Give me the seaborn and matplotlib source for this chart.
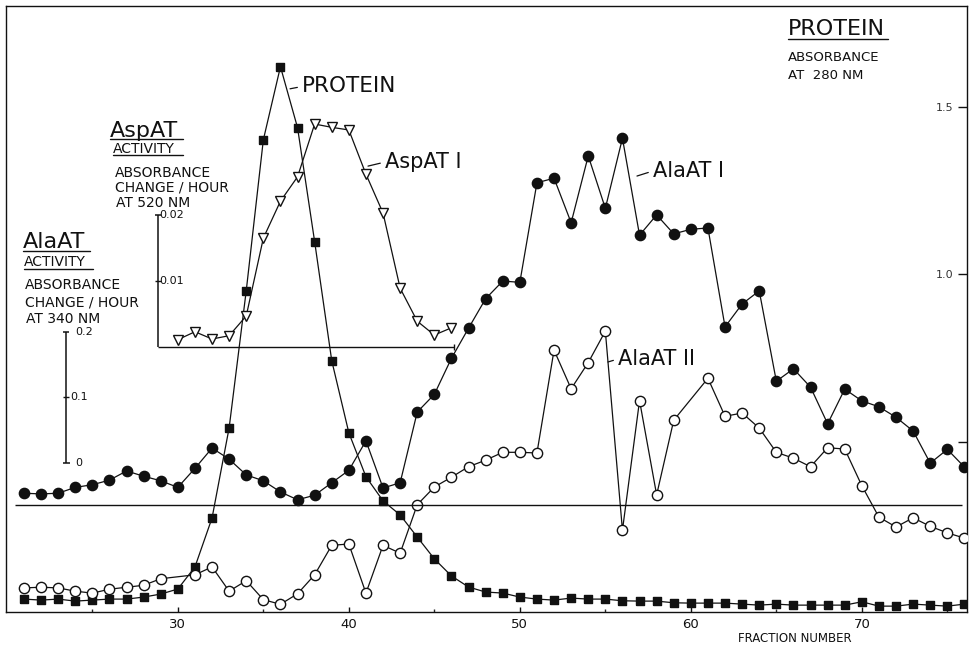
import matplotlib
matplotlib.use("Agg")
import matplotlib.pyplot as plt
from matplotlib.lines import Line2D
import seaborn as sns

# ---------------------------------------------------------------- data
fractions = list(range(21, 77))

# Protein, absorbance at 280 nm
protein_a280 = [
    0.031, 0.028, 0.031, 0.025, 0.028, 0.031, 0.031, 0.037, 0.046, 0.061,
    0.127, 0.273, 0.542, 0.951, 1.401, 1.619, 1.437, 1.097, 0.742, 0.527,
    0.396, 0.324, 0.282, 0.216, 0.151, 0.100, 0.067, 0.052, 0.049, 0.037,
    0.031, 0.028, 0.034, 0.031, 0.031, 0.026, 0.025, 0.025, 0.020, 0.019,
    0.019, 0.019, 0.016, 0.013, 0.016, 0.013, 0.013, 0.013, 0.013, 0.023,
    0.010, 0.010, 0.016, 0.013, 0.010, 0.016,
]

# AlaAT I activity (absorbance change / hour at 340 nm), above its own baseline
alaat1_activity = [
    0.018, 0.017, 0.018, 0.027, 0.031, 0.038, 0.052, 0.044, 0.037, 0.027,
    0.056, 0.087, 0.070, 0.046, 0.037, 0.020, 0.008, 0.015, 0.034, 0.053,
    0.098, 0.026, 0.034, 0.142, 0.169, 0.224, 0.270, 0.315, 0.342, 0.340,
    0.492, 0.499, 0.431, 0.533, 0.453, 0.560, 0.412, 0.443, 0.414, 0.421,
    0.423, 0.272, 0.307, 0.327, 0.189, 0.208, 0.180, 0.124, 0.177, 0.159,
    0.150, 0.134, 0.113, 0.064, 0.085, 0.058,
]

# AlaAT II activity (absorbance change / hour at 340 nm)
alaat2_fractions = list(range(21, 30)) + list(range(31, 60)) + list(range(61, 77))
alaat2_activity = [
    0.033, 0.034, 0.033, 0.028, 0.025, 0.031, 0.034, 0.037, 0.047,
    0.053, 0.065, 0.028, 0.044, 0.015, 0.008, 0.024, 0.053, 0.098, 0.100,
    0.025, 0.098, 0.086, 0.160, 0.187, 0.202, 0.218, 0.228, 0.240, 0.240,
    0.239, 0.396, 0.337, 0.377, 0.425, 0.121, 0.319, 0.175, 0.289,
    0.353, 0.295, 0.300, 0.277, 0.240, 0.231, 0.218, 0.247, 0.245, 0.189,
    0.141, 0.126, 0.140, 0.127, 0.117, 0.109,
]

# AspAT I activity (absorbance change / hour at 520 nm)
aspat_fractions = list(range(30, 47))
aspat_activity = [
    0.0011, 0.0023, 0.0012, 0.0017, 0.0047, 0.0165, 0.0221, 0.0258, 0.0338,
    0.0333, 0.0329, 0.0262, 0.0203, 0.0089, 0.0039, 0.0018, 0.0029,
]

fraction_ticks = [30, 40, 50, 60, 70]
fraction_tick_labels = ["30", "40", "50", "60", "70"]
fraction_minor_ticks = [25, 35, 45, 55, 65, 75]
protein_ticks = [0.5, 1.0, 1.5]
protein_tick_labels = ["", "1.0", "1.5"]
alaat_scale = [0.0, 0.1, 0.2]
alaat_scale_labels = ["0", "0.1", "0.2"]
aspat_scale = [0.0, 0.01, 0.02]
aspat_scale_labels = ["", "0.01", "0.02"]

# ---------------------------------------------------------------- layout
W, H = 972, 647
LEFT, TOP, RIGHT, BOTTOM = 6, 6, 967, 612
XLIM = (19.95, 76.15)
PROTEIN_YLIM = (-0.0075, 1.80)
ALAAT_YLIM = (-0.0038, 0.9214)
ASPAT_YLIM = (-0.0402, 0.0517)
ALAAT1_OFFSET = 0.1595      # AlaAT I is lifted onto its own baseline
ALAAT_BAR_X, ALAAT_BAR_BASE = 23.46, 0.2237
ASPAT_BAR_X, ASPAT_BASE_END = 28.84, 46.15
TALL_SQUARE = [(-0.8, -1), (0.8, -1), (0.8, 1), (-0.8, 1), (-0.8, -1)]

sns.set_theme(style="white")
plt.rcParams["font.family"] = ["DejaVu Sans"]
plt.rcParams["axes.linewidth"] = 1.0
INK = "#111111"

fig = plt.figure(figsize=(W / 100, H / 100), dpi=100)
fig.patch.set_facecolor("white")
ax = fig.add_axes([LEFT / W, 1 - BOTTOM / H, (RIGHT - LEFT) / W, (BOTTOM - TOP) / H])
ax_ala = ax.twinx()
ax_asp = ax.twinx()


def trace(axis, x, y, marker, size, face):
    sns.lineplot(x=x, y=y, ax=axis, color=INK, linewidth=0.9, marker=marker,
                 markersize=size, markerfacecolor=face, markeredgecolor=INK,
                 markeredgewidth=1.0, estimator=None, sort=False)


trace(ax, fractions, protein_a280, TALL_SQUARE, 6.4, INK)
trace(ax_ala, alaat2_fractions, alaat2_activity, "o", 7.4, "white")
trace(ax_ala, fractions, [v + ALAAT1_OFFSET for v in alaat1_activity], "o", 7.4, INK)
trace(ax_asp, aspat_fractions, aspat_activity, "v", 6.8, "white")

# baselines
ax_ala.hlines(ALAAT1_OFFSET, 20.5, 75.85, color=INK, lw=1.0)
ax_asp.hlines(0, ASPAT_BAR_X, ASPAT_BASE_END, color=INK, lw=1.0)
ax_asp.vlines(ASPAT_BASE_END, -0.0004, 0.0004, color=INK, lw=1.0)

# AspAT scale bar
ax_asp.vlines(ASPAT_BAR_X, aspat_scale[0], aspat_scale[-1], color=INK, lw=1.1)
ax_asp.hlines(aspat_scale[-1], ASPAT_BAR_X - 0.2, ASPAT_BAR_X + 0.2, color=INK, lw=1.1)
ax_asp.hlines(aspat_scale[1], ASPAT_BAR_X - 0.15, ASPAT_BAR_X + 0.15, color=INK, lw=1.0)
for v, s in zip(aspat_scale, aspat_scale_labels):
    if s:
        ax_asp.text(ASPAT_BAR_X + 0.1, v, s, fontsize=8, ha="left", va="center", color=INK)

# AlaAT scale bar
bar = [ALAAT_BAR_BASE + v for v in alaat_scale]
ax_ala.vlines(ALAAT_BAR_X, bar[0], bar[-1], color=INK, lw=1.1)
ax_ala.hlines(bar[-1], ALAAT_BAR_X - 0.17, ALAAT_BAR_X + 0.17, color=INK, lw=1.1)
ax_ala.hlines(bar[1], ALAAT_BAR_X - 0.15, ALAAT_BAR_X + 0.15, color=INK, lw=1.0)
ax_ala.hlines(bar[0], ALAAT_BAR_X - 0.15, ALAAT_BAR_X + 0.25, color=INK, lw=1.1)
for v, s, dx in zip(bar, alaat_scale_labels, [0.52, 0.23, 0.52]):
    ax_ala.text(ALAAT_BAR_X + dx, v, s, fontsize=8, ha="left", va="center", color=INK)

# curve labels
lead = dict(arrowstyle="-", lw=0.9, color=INK, shrinkA=1, shrinkB=0, relpos=(0, 0.5))
ax.annotate("PROTEIN", xy=(36.56, 1.553), xytext=(37.26, 1.542), fontsize=15.5,
            ha="left", va="baseline", color=INK, arrowprops=lead)
ax_asp.annotate("AspAT I", xy=(41.12, 0.02742), xytext=(42.11, 0.02712), fontsize=15,
                ha="left", va="baseline", color=INK, arrowprops=lead)
ax_ala.annotate("AlaAT I", xy=(56.85, 0.6618), xytext=(57.78, 0.6603), fontsize=15,
                ha="left", va="baseline", color=INK, arrowprops=lead)
ax_ala.annotate("AlaAT II", xy=(55.15, 0.3779), xytext=(55.74, 0.3733), fontsize=15,
                ha="left", va="baseline", color=INK, arrowprops=lead)

# axes limits and ticks
for a, lim in ((ax, PROTEIN_YLIM), (ax_ala, ALAAT_YLIM), (ax_asp, ASPAT_YLIM)):
    a.set_ylim(*lim)
    a.set_xlim(*XLIM)
ax_ala.set_axis_off()
ax_asp.set_axis_off()

ax.set_xticks(fraction_ticks, fraction_tick_labels)
ax.set_xticks(fraction_minor_ticks, minor=True)
ax.tick_params(axis="x", which="major", direction="in", length=3.5, width=1.0,
               labelsize=9.5, pad=4, colors=INK, bottom=True, top=False)
ax.tick_params(axis="x", which="minor", direction="in", length=2.5, width=1.0,
               bottom=True, top=False)
ax.yaxis.tick_right()
ax.set_yticks(protein_ticks, protein_tick_labels)
ax.tick_params(axis="y", which="major", direction="in", length=6.5, width=1.0,
               labelsize=8, pad=-10, labelcolor="#333333", color=INK,
               left=False, labelleft=False, right=True, labelright=True)
for lbl in ax.get_yticklabels():
    lbl.set_horizontalalignment("right")
ax.set_xlabel("")
ax.set_ylabel("")
for sp in ax.spines.values():
    sp.set_visible(True)
    sp.set_color(INK)
    sp.set_linewidth(1.0)


# ---------------------------------------------------------------- headings
def ftext(px, py, s, size):
    fig.text(px / W, 1 - py / H, s, fontsize=size, ha="left", va="baseline", color=INK)


def uline(x0, x1, py):
    fig.add_artist(Line2D([x0 / W, x1 / W], [1 - py / H] * 2,
                          transform=fig.transFigure, color=INK, lw=1.0))


ftext(23, 248, "AlaAT", 16)
uline(23, 90, 251)
ftext(24, 266, "ACTIVITY", 10)
uline(24, 93, 269)
ftext(25, 289, "ABSORBANCE", 10)
ftext(25, 307, "CHANGE / HOUR", 10)
ftext(26, 323, "AT 340 NM", 10)

ftext(110, 137, "AspAT", 16)
uline(110, 183, 139)
ftext(113, 153, "ACTIVITY", 10)
uline(113, 183, 155)
ftext(115, 177, "ABSORBANCE", 10)
ftext(115, 192, "CHANGE / HOUR", 10)
ftext(116, 207, "AT 520 NM", 10)

ftext(788, 35, "PROTEIN", 16)
uline(788, 888, 39)
ftext(788, 61, "ABSORBANCE", 9.5)
ftext(788, 79, "AT  280 NM", 9.5)

ftext(738, 642, "FRACTION NUMBER", 8.5)

fig.savefig("out.png", dpi=100, facecolor="white")
